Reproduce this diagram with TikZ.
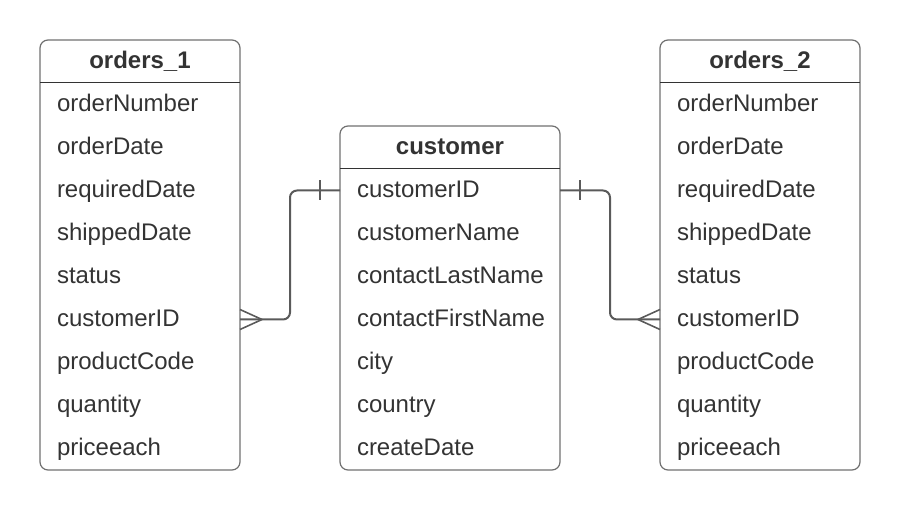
\documentclass[tikz,border=0pt]{standalone}
\usepackage{fontspec}
\setmainfont{Liberation Sans}
\usetikzlibrary{positioning}
\definecolor{inkgray}{HTML}{333333}
\definecolor{framegray}{HTML}{707070}
\definecolor{linkgray}{HTML}{5A5A5A}
\tikzset{
  headcell/.style={minimum height=43pt, inner xsep=17pt, inner ysep=0pt, outer sep=0pt,
    text height=18pt, text depth=4pt,
    align=center, text=inkgray, font=\fontsize{24}{28}\selectfont\bfseries},
  rowcell/.style={minimum height=43pt, inner xsep=17pt, inner ysep=0pt, outer sep=0pt,
    text height=18pt, text depth=4pt,
    align=left, text=inkgray, font=\fontsize{24}{28}\selectfont},
  frame/.style={draw=framegray, line width=1.2pt, rounded corners=8pt},
  headline/.style={draw=inkgray, line width=1pt},
  link/.style={draw=linkgray, line width=2pt, rounded corners=7pt},
  tick/.style={draw=linkgray, line width=1.6pt}
}

\begin{document}
\begin{tikzpicture}[x=1pt, y=1pt]
    \useasboundingbox (0,0) rectangle (900,-510);

    % orders_1
    \node[headcell, text width=166pt] (o1h) at (140,-61.5) {orders\_1};
    \node[rowcell, text width=166pt, below=0pt of o1h] (o1r1) {orderNumber};
    \node[rowcell, text width=166pt, below=0pt of o1r1] (o1r2) {orderDate};
    \node[rowcell, text width=166pt, below=0pt of o1r2] (o1r3) {requiredDate};
    \node[rowcell, text width=166pt, below=0pt of o1r3] (o1r4) {shippedDate};
    \node[rowcell, text width=166pt, below=0pt of o1r4] (o1r5) {status};
    \node[rowcell, text width=166pt, below=0pt of o1r5] (o1r6) {customerID};
    \node[rowcell, text width=166pt, below=0pt of o1r6] (o1r7) {productCode};
    \node[rowcell, text width=166pt, below=0pt of o1r7] (o1r8) {quantity};
    \node[rowcell, text width=166pt, below=0pt of o1r8] (o1r9) {priceeach};
    \draw[frame] (o1h.north west) rectangle (o1r9.south east);
    \draw[headline] (o1h.south west) -- (o1h.south east);

    % customer
    \node[headcell, text width=186pt] (cuh) at (450,-147.5) {customer};
    \node[rowcell, text width=186pt, below=0pt of cuh] (cu1) {customerID};
    \node[rowcell, text width=186pt, below=0pt of cu1] (cu2) {customerName};
    \node[rowcell, text width=186pt, below=0pt of cu2] (cu3) {contactLastName};
    \node[rowcell, text width=186pt, below=0pt of cu3] (cu4) {contactFirstName};
    \node[rowcell, text width=186pt, below=0pt of cu4] (cu5) {city};
    \node[rowcell, text width=186pt, below=0pt of cu5] (cu6) {country};
    \node[rowcell, text width=186pt, below=0pt of cu6] (cu7) {createDate};
    \draw[frame] (cuh.north west) rectangle (cu7.south east);
    \draw[headline] (cuh.south west) -- (cuh.south east);

    % orders_2
    \node[headcell, text width=166pt] (o2h) at (760,-61.5) {orders\_2};
    \node[rowcell, text width=166pt, below=0pt of o2h] (o2r1) {orderNumber};
    \node[rowcell, text width=166pt, below=0pt of o2r1] (o2r2) {orderDate};
    \node[rowcell, text width=166pt, below=0pt of o2r2] (o2r3) {requiredDate};
    \node[rowcell, text width=166pt, below=0pt of o2r3] (o2r4) {shippedDate};
    \node[rowcell, text width=166pt, below=0pt of o2r4] (o2r5) {status};
    \node[rowcell, text width=166pt, below=0pt of o2r5] (o2r6) {customerID};
    \node[rowcell, text width=166pt, below=0pt of o2r6] (o2r7) {productCode};
    \node[rowcell, text width=166pt, below=0pt of o2r7] (o2r8) {quantity};
    \node[rowcell, text width=166pt, below=0pt of o2r8] (o2r9) {priceeach};
    \draw[frame] (o2h.north west) rectangle (o2r9.south east);
    \draw[headline] (o2h.south west) -- (o2h.south east);

    % links: one customer to many orders
    \draw[link] (cu1.west) -- ++(-50,0) |- (o1r6.east);
    \draw[tick] ([xshift=-20pt, yshift=10pt]cu1.west) -- ([xshift=-20pt, yshift=-10pt]cu1.west);
    \draw[tick] ([xshift=22pt]o1r6.east) -- ([yshift=10pt]o1r6.east);
    \draw[tick] ([xshift=22pt]o1r6.east) -- ([yshift=-10pt]o1r6.east);

    \draw[link] (cu1.east) -- ++(50,0) |- (o2r6.west);
    \draw[tick] ([xshift=20pt, yshift=10pt]cu1.east) -- ([xshift=20pt, yshift=-10pt]cu1.east);
    \draw[tick] ([xshift=-22pt]o2r6.west) -- ([yshift=10pt]o2r6.west);
    \draw[tick] ([xshift=-22pt]o2r6.west) -- ([yshift=-10pt]o2r6.west);
\end{tikzpicture}
\end{document}
